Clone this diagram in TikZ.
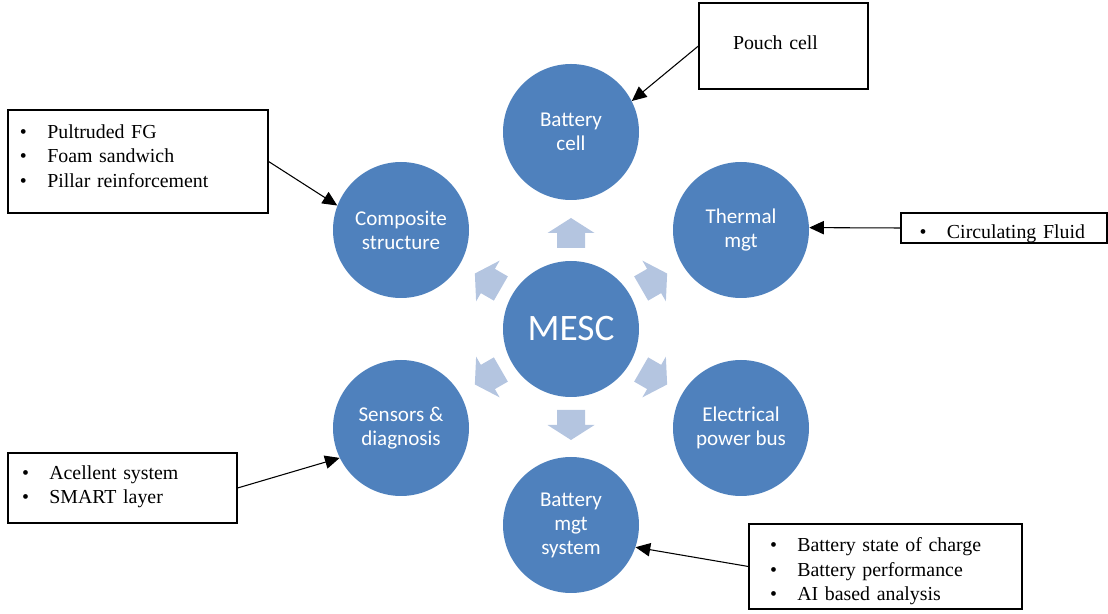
\documentclass[tikz,border=0pt]{standalone}
\usepackage{fontspec}
\setmainfont{Liberation Serif}
\newfontfamily\calibri{Carlito}
\usetikzlibrary{arrows.meta}

\definecolor{hubblue}{HTML}{4F81BD}
\definecolor{paleblue}{HTML}{B4C5E0}

\tikzset{
  hub/.style={circle, fill=hubblue, minimum size=102pt, inner sep=0pt,
    text=white, align=center, font=\calibri\fontsize{15.8}{18}\selectfont},
  notebox/.style={draw=black, line width=0.9pt, fill=white, inner ysep=0pt,
    align=left, font=\fontsize{14.9}{18.4}\selectfont},
  pointer/.style={-{Triangle[length=11pt,width=10pt]}, line width=0.8pt},
  blockarrow/.pic={
    \fill[paleblue] (-15,-14) -- (0,-14) -- (0,-23.5) -- (15,0)
      -- (0,23.5) -- (0,14) -- (-15,14) -- cycle;
  }
}
\newcommand{\bitem}[1]{\makebox[20.5pt][l]{\textbullet}#1}

\begin{document}
\begin{tikzpicture}[x=0.75pt, y=0.75pt]

  \useasboundingbox (0,0) rectangle (1108,614);

  % Centre and ring
  \node[hub, font=\calibri\fontsize{28}{32}\selectfont] (mesc) at (571,285) {MESC};
  \node[hub] (cell)      at (571,482) {Battery\\cell};
  \node[hub] (thermal)   at (741,384) {Thermal\\mgt};
  \node[hub] (power)     at (741,186) {Electrical\\power bus};
  \node[hub] (bms)       at (571,89)  {Battery\\mgt\\system};
  \node[hub] (sensors)   at (401,186) {Sensors \&\\diagnosis};
  \node[hub] (composite) at (401,384) {Composite\\structure};

  % Block arrows
  \foreach \a in {90,30,-30,-90,-150,150}
    \path (mesc) ++(\a:96) pic[rotate=\a] {blockarrow};

  % Note boxes
  \node[notebox, minimum height=64.5pt, text width=75.75pt, inner xsep=25.5pt,
    text height=10pt, text depth=4.7pt]
    (pouch) at (783.5,568) {Pouch cell};
  \node[notebox, minimum height=77.25pt, text width=177pt, inner xsep=9pt,
    text height=10pt, text depth=44.6pt]
    (struct) at (138,452.5) {\bitem{Pultruded FG}\\\bitem{Foam sandwich}\\\bitem{Pillar reinforcement}};
  \node[notebox, minimum height=22.5pt, text width=126.5pt, inner xsep=14pt,
    text height=19pt, text depth=3.3pt]
    (fluid) at (1004,386) {\bitem{Circulating Fluid}};
  \node[notebox, minimum height=52.5pt, text width=150.75pt, inner xsep=10.5pt,
    text height=10pt, text depth=23.2pt]
    (probes) at (122.5,126) {\bitem{Acellent system}\\\bitem{SMART layer}};
  \node[notebox, minimum height=63.75pt, text width=173.25pt, inner xsep=15.75pt,
    text height=18pt, text depth=40.1pt]
    (charge) at (885.5,47.5) {\bitem{Battery state of charge}\\\bitem{Battery performance}\\\bitem{AI based analysis}};

  % Pointers
  \draw[pointer] (pouch.west) -- (cell.27);
  \draw[pointer] (struct.east) -- (composite.159);
  \draw[pointer] (fluid.west) -- (thermal.2);
  \draw[pointer] (probes.east) -- (sensors.206);
  \draw[pointer] (charge.west) -- (bms.341);

\end{tikzpicture}
\end{document}
